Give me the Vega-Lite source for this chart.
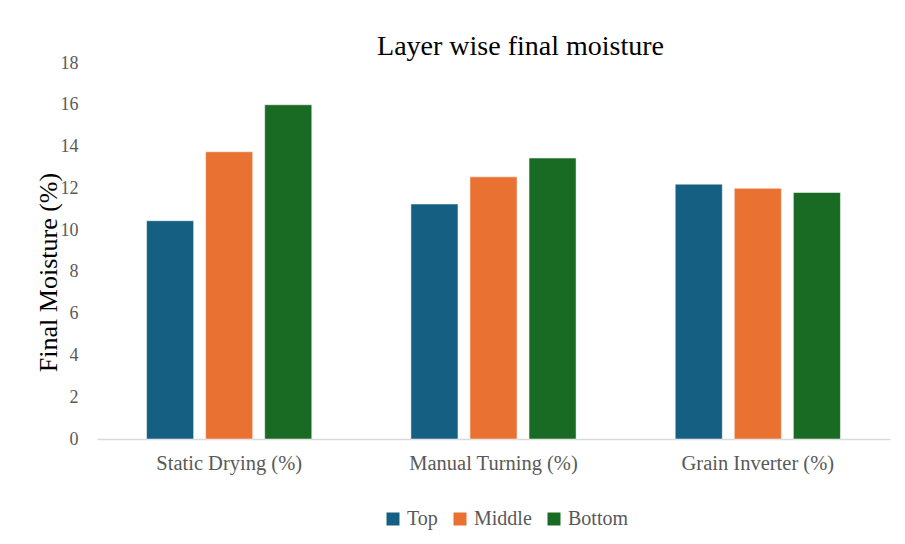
{
  "$schema": "https://vega.github.io/schema/vega-lite/v6.json",
  "width": 793,
  "height": 376,
  "autosize": {"type": "none"},
  "padding": {"left": 97, "top": 63, "right": 15, "bottom": 105},
  "background": "white",
  "title": {
    "text": "Layer wise final moisture",
    "font": "Liberation Serif",
    "fontSize": 28,
    "fontWeight": "normal",
    "color": "#000000",
    "anchor": "middle",
    "dx": 27,
    "offset": -7
  },
  "config": {
    "view": {"stroke": null},
    "font": "Liberation Serif"
  },
  "data": {
    "values": [
      {"method": "Static Drying (%)", "layer": "Top", "moisture": 10.45},
      {"method": "Static Drying (%)", "layer": "Middle", "moisture": 13.75},
      {"method": "Static Drying (%)", "layer": "Bottom", "moisture": 16.0},
      {"method": "Manual Turning (%)", "layer": "Top", "moisture": 11.25},
      {"method": "Manual Turning (%)", "layer": "Middle", "moisture": 12.55},
      {"method": "Manual Turning (%)", "layer": "Bottom", "moisture": 13.45},
      {"method": "Grain Inverter (%)", "layer": "Top", "moisture": 12.2},
      {"method": "Grain Inverter (%)", "layer": "Middle", "moisture": 12.0},
      {"method": "Grain Inverter (%)", "layer": "Bottom", "moisture": 11.8}
    ]
  },
  "mark": {"type": "bar", "stroke": "white", "strokeWidth": 0.5},
  "encoding": {
    "x": {
      "field": "method",
      "type": "nominal",
      "sort": ["Static Drying (%)", "Manual Turning (%)", "Grain Inverter (%)"],
      "scale": {"paddingInner": 0.375, "paddingOuter": 0.1875},
      "axis": {
        "title": null,
        "labelAngle": 0,
        "labelFont": "Liberation Serif",
        "labelFontSize": 20.5,
        "labelColor": "#595959",
        "labelPadding": 14,
        "ticks": false,
        "domainColor": "#d9d9d9",
        "domainWidth": 1.5
      }
    },
    "xOffset": {
      "field": "layer",
      "type": "nominal",
      "sort": ["Top", "Middle", "Bottom"],
      "scale": {"paddingInner": 0.203, "paddingOuter": 0}
    },
    "y": {
      "field": "moisture",
      "type": "quantitative",
      "scale": {"domain": [0, 18], "nice": false},
      "axis": {
        "values": [0, 2, 4, 6, 8, 10, 12, 14, 16, 18],
        "title": "Final Moisture (%)",
        "titleFont": "Liberation Serif",
        "titleFontSize": 26,
        "titleFontWeight": "normal",
        "titleColor": "#000000",
        "titleAngle": -90,
        "titleX": -49,
        "titleY": 209,
        "titleAlign": "center",
        "titleBaseline": "middle",
        "labelFont": "Liberation Serif",
        "labelFontSize": 18,
        "labelColor": "#595959",
        "labelPadding": 19,
        "ticks": false,
        "domain": false,
        "grid": false
      }
    },
    "color": {
      "field": "layer",
      "type": "nominal",
      "sort": ["Top", "Middle", "Bottom"],
      "scale": {"domain": ["Top", "Middle", "Bottom"], "range": ["#156082", "#E97132", "#196B24"]},
      "legend": {
        "title": null,
        "orient": "none",
        "direction": "horizontal",
        "legendX": 286,
        "legendY": 446,
        "symbolType": "square",
        "symbolSize": 169,
        "symbolStrokeWidth": 0,
        "labelFont": "Liberation Serif",
        "labelFontSize": 20,
        "labelColor": "#595959",
        "labelOffset": 4,
        "columnPadding": 12
      }
    }
  }
}
